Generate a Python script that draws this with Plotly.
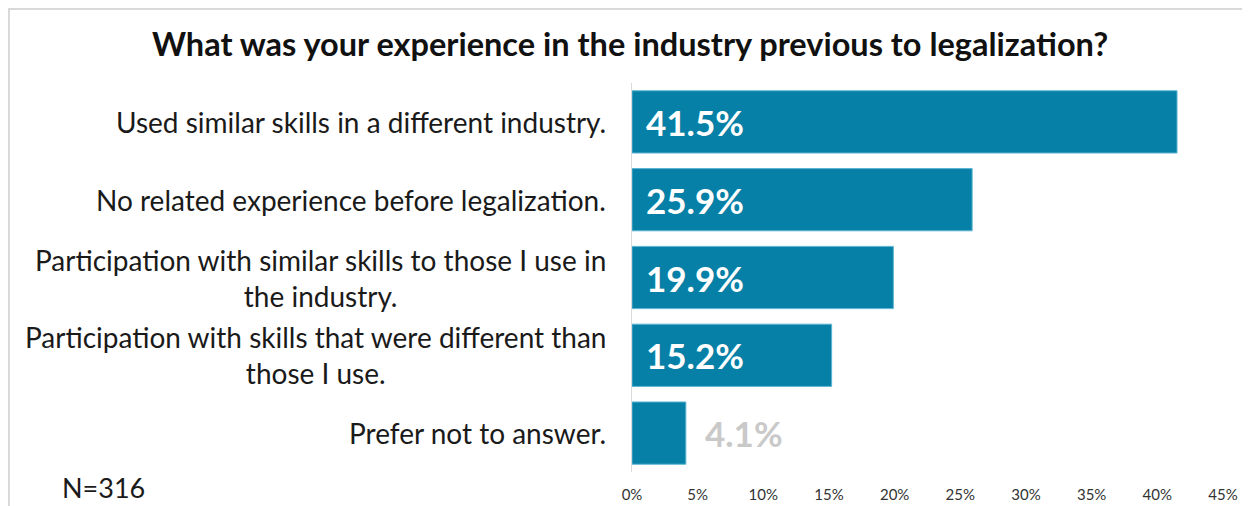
import plotly.graph_objects as go

categories = [
    "Used similar skills in a different industry.",
    "No related experience before legalization.",
    "Participation with similar skills to those I use in<br>the industry.",
    "Participation with skills that were different than<br>those I use.",
    "Prefer not to answer.",
]
values = [41.5, 25.9, 19.9, 15.2, 4.1]
tick_vals = [0, 5, 10, 15, 20, 25, 30, 35, 40, 45]
tick_text = ["0%", "5%", "10%", "15%", "20%", "25%", "30%", "35%", "40%", "45%"]
title_text = "What was your experience in the industry previous to legalization?"
note_text = "N=316"

BAR = "#0680a6"
FONT = "Lato"
# page body has an 8px margin, so the figure is drawn from (8, 8)
W, H = 1242, 498
ML, MR, MT, MB = 624, 27, 75, 34
PW = W - ML - MR
PH = H - MT - MB

fig = go.Figure()
fig.add_trace(go.Bar(
    x=values,
    y=categories,
    orientation="h",
    marker=dict(color=BAR, line=dict(color="#5db5d4", width=1)),
    hoverinfo="skip",
))

annotations = []
for c in categories:
    annotations.append(dict(
        x=0, xref="paper", y=c, yref="y", text=c, showarrow=False,
        xanchor="right", yanchor="middle", align="center", xshift=-24,
        font=dict(family=FONT, size=28, color="#1a1a1a"),
    ))
for c, v in zip(categories, values):
    inside = v >= 10
    annotations.append(dict(
        x=0 if inside else v, xref="x", y=c, yref="y",
        text=f"<b>{v:.1f}%</b>", showarrow=False,
        xanchor="left", yanchor="middle",
        xshift=12 if inside else 17,
        font=dict(family=FONT, size=35, color="white" if inside else "#c9c9c9"),
    ))
annotations.append(dict(
    x=(95 - ML) / PW, xref="paper", y=(H - MB - 479) / PH, yref="paper",
    text=note_text, showarrow=False, xanchor="center", yanchor="middle",
    font=dict(family=FONT, size=27, color="#1a1a1a"),
))

fig.update_layout(
    width=W, height=H,
    margin=dict(l=ML, r=MR, t=MT, b=MB, pad=0, autoexpand=False),
    paper_bgcolor="white", plot_bgcolor="white",
    showlegend=False,
    bargap=0.2,
    title=dict(
        text=f"<b>{title_text}</b>", x=622 / W, xanchor="center",
        y=1 - 37 / H, yanchor="middle", yref="container",
        font=dict(family=FONT, size=32.5, color="#111111"),
    ),
    xaxis=dict(
        range=[0, 45], tickvals=tick_vals, ticktext=tick_text,
        showgrid=False, zeroline=False, showline=False,
        tickfont=dict(family=FONT, size=15, color="#333333"),
        ticks="", ticklabelstandoff=12, automargin=False,
    ),
    yaxis=dict(
        categoryorder="array", categoryarray=categories[::-1],
        showticklabels=False, showgrid=False, zeroline=False,
        showline=True, linecolor="#d9d9d9", linewidth=1, ticks="",
        automargin=False,
    ),
    annotations=annotations,
    shapes=[dict(
        type="rect", xref="paper", yref="paper",
        x0=(1 - ML) / PW, x1=(W + 20 - ML) / PW,
        y0=(H - MB - H - 20) / PH, y1=(H - MB - 1) / PH,
        line=dict(color="#d9d9d9", width=2), fillcolor="rgba(0,0,0,0)",
        layer="below",
    )],
)

fig.write_html("out.html")
